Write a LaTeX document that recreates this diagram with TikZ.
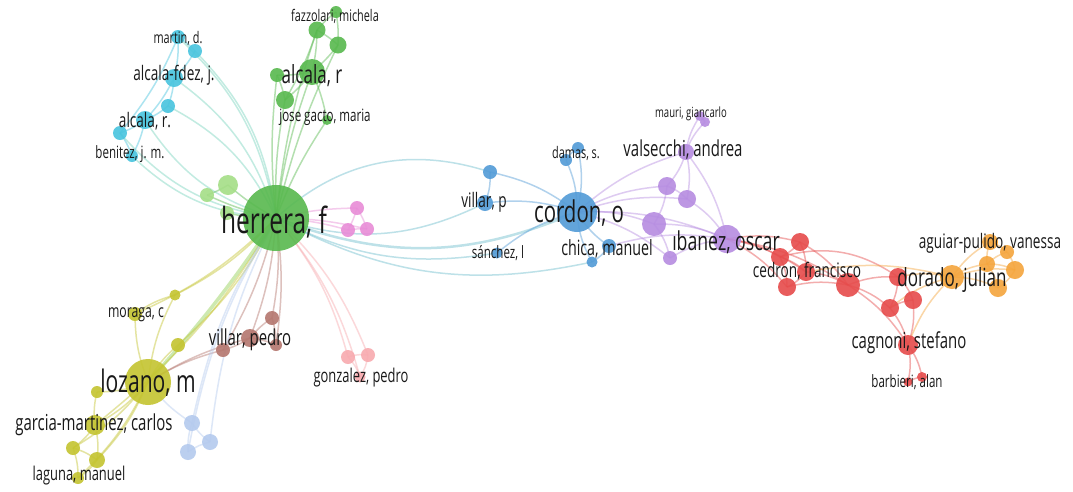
\documentclass[tikz,border=0pt]{standalone}
\usepackage{fontspec}
\setmainfont{Open Sans}[FakeStretch=0.68]
\usepackage{tikz}
\usetikzlibrary{backgrounds}
\definecolor{gr}{RGB}{88,185,78}
\definecolor{lg}{RGB}{165,222,135}
\definecolor{cy}{RGB}{72,196,222}
\definecolor{bl}{RGB}{82,155,215}
\definecolor{pu}{RGB}{182,140,225}
\definecolor{rd}{RGB}{230,75,75}
\definecolor{og}{RGB}{245,165,60}
\definecolor{ye}{RGB}{196,196,48}
\definecolor{br}{RGB}{180,118,110}
\definecolor{lp}{RGB}{248,170,175}
\definecolor{pk}{RGB}{232,140,215}
\definecolor{lb}{RGB}{180,202,238}
\definecolor{tl}{RGB}{120,212,190}
\definecolor{tb}{RGB}{110,190,205}
\definecolor{gy}{RGB}{145,208,80}
\pgfdeclarelayer{edges}
\pgfsetlayers{edges,main}
\tikzset{pt/.style={circle, inner sep=0pt, fill=#1, fill opacity=0.9},
  lbl/.style={font=\fontsize{#1}{#1}\selectfont, inner sep=0pt, text=black!90},
  ln/.style={draw=#1, line width=1.5pt, opacity=0.45}}

\begin{document}
\begin{tikzpicture}[x=1pt,y=-1pt]
  \useasboundingbox (0,0) rectangle (1073,491);
  % clusters
  \foreach \n/\x/\y/\d in {hf/276/218/66, ar/312/72/26, fm1/317/30/17, fm2/336/12/12, fm3/338/45/17,
      g4/277/75/14, jg/285/100/18, g6/327/120/10}
    \node[pt=gr, minimum size=\d pt] (\n) at (\x,\y) {};
  \foreach \n/\x/\y/\d in {lg1/228/185/20, lg2/207/195/14, lg3/227/213/14}
    \node[pt=lg, minimum size=\d pt] (\n) at (\x,\y) {};
  \foreach \n/\x/\y/\d in {md1/178/37/14, md2/195/51/14, af/174/78/18, c4/168/106/14,
      arr/145/120/18, c6/120/133/14, bj/132/156/12}
    \node[pt=cy, minimum size=\d pt] (\n) at (\x,\y) {};
  \foreach \n/\x/\y/\d in {pk1/357/208/14, pk2/348/230/14, pk3/367/229/14}
    \node[pt=pk, minimum size=\d pt] (\n) at (\x,\y) {};
  \foreach \n/\x/\y/\d in {co/577/212/40, vp1/490/172/14, vp2/485/203/16, ds1/566/160/12, ds2/578/148/12,
      sl/497/253/11, cm1/609/246/14, cm2/592/262/11}
    \node[pt=bl, minimum size=\d pt] (\n) at (\x,\y) {};
  \foreach \n/\x/\y/\d in {io/727/239/28, va/686/152/16, mg1/700/116/10, mg2/705/122/10,
      p4/667/186/18, p5/687/199/18, p6/654/224/24, p7/670/258/14}
    \node[pt=pu, minimum size=\d pt] (\n) at (\x,\y) {};
  \foreach \n/\x/\y/\d in {r1/800/242/18, r2/780/257/18, cf/806/272/18, r4/787/287/18, r5/848/285/24,
      r6/898/277/18, r7/890/308/18, r8/913/300/18, cs/908/345/20, ba1/908/382/9, ba2/922/377/10}
    \node[pt=rd, minimum size=\d pt] (\n) at (\x,\y) {};
  \foreach \n/\x/\y/\d in {dj/952/277/24, ap1/990/242/16, ap2/1007/252/14, o2/987/264/16,
      o3/1015/270/18, o4/998/288/18}
    \node[pt=og, minimum size=\d pt] (\n) at (\x,\y) {};
  \foreach \n/\x/\y/\d in {lm/148/382/46, ye1/175/295/11, mc/135/314/14, ye3/178/345/14, ye4/97/392/12,
      gm/95/425/20, ye6/73/448/14, ye7/97/460/16, lmn/78/478/12}
    \node[pt=ye, minimum size=\d pt] (\n) at (\x,\y) {};
  \foreach \n/\x/\y/\d in {vpd/250/338/18, br2/272/318/14, br3/276/345/12, br4/223/350/14}
    \node[pt=br, minimum size=\d pt] (\n) at (\x,\y) {};
  \foreach \n/\x/\y/\d in {gp1/348/357/14, gp2/368/355/14, gp3/360/377/11}
    \node[pt=lp, minimum size=\d pt] (\n) at (\x,\y) {};
  \foreach \n/\x/\y/\d in {lb1/192/423/16, lb2/210/442/16, lb3/188/452/16}
    \node[pt=lb, minimum size=\d pt] (\n) at (\x,\y) {};

  % links
  \begin{pgfonlayer}{edges}
    \fill[white] (0,0) rectangle (1073,491);
    \foreach \a/\b in {hf/md1, hf/md2, hf/af, hf/c4}
      \draw[ln=tl] (\a.center) to[bend right=18] (\b.center);
    \foreach \a/\b in {hf/arr, hf/c6, hf/bj}
      \draw[ln=tl] (\a.center) to[bend left=20] (\b.center);
    \foreach \a/\b in {md1/md2, md1/af, md2/af, af/c4, af/arr, c4/arr, arr/c6, c6/bj, arr/bj, md1/c6}
      \draw[ln=cy] (\a.center) to[bend left=8] (\b.center);
    \foreach \a/\b in {hf/ar, hf/fm1, hf/fm3, hf/g4, hf/jg, hf/g6, hf/lg1, hf/lg2, hf/lg3,
        fm1/fm2, fm1/fm3, fm2/fm3, fm1/ar, fm3/ar, ar/g4, ar/jg, g4/jg, ar/g6, fm1/jg, lg1/lg2}
      \draw[ln=gr] (\a.center) to[bend left=6] (\b.center);
    \draw[ln=gy, line width=3.5pt] (hf.center) to[bend left=4] (lm.center);
    \foreach \a/\b in {hf/pk1, hf/pk2, hf/pk3, pk1/pk2, pk1/pk3, pk2/pk3}
      \draw[ln=pk] (\a.center) to[bend left=6] (\b.center);
    \draw[ln=tb] (hf.center) to[bend left=30] (vp1.center);
    \draw[ln=tb] (hf.center) to[bend right=22] (vp2.center);
    \draw[ln=tb, line width=2.5pt] (hf.center) to[bend right=22] (co.center);
    \draw[ln=tb] (hf.center) to[bend right=18] (sl.center);
    \draw[ln=tb] (hf.center) to[bend right=20] (cm2.center);
    \foreach \a/\b in {vp1/vp2, vp1/co, vp2/co, ds1/co, ds2/co, ds1/ds2, sl/co, cm1/co, cm2/co, cm1/cm2}
      \draw[ln=bl] (\a.center) to[bend left=12] (\b.center);
    \foreach \a/\b in {co/p4, co/p5, co/p6, co/io, co/p7, co/va, va/mg1, va/mg2, mg1/mg2, va/p4, va/p5,
        va/io, p4/p5, p4/p6, p5/io, p6/io, p6/p7, p7/io, cm1/io}
      \draw[ln=pu] (\a.center) to[bend left=12] (\b.center);
    \foreach \a/\b in {io/r1, io/r2, io/cf, io/r4, io/r5, r1/r2, r1/cf, r2/cf, r2/r4, cf/r4, cf/r5,
        r4/r5, r1/r5, r5/r6, r5/r7, r6/r7, r6/r8, r7/r8, r7/cs, r8/cs, cs/ba1, cs/ba2, ba1/ba2, r5/cs}
      \draw[ln=rd] (\a.center) to[bend left=12] (\b.center);
    \draw[ln=rd] (r2.center) to[bend left=25] (r6.center);
    \foreach \a/\b in {r6/dj, r7/dj, cs/dj, cf/dj, dj/o2, dj/o3, dj/o4, dj/ap1, o2/ap1, o2/ap2, o2/o3,
        o3/o4, ap1/ap2, ap2/o3, o2/o4}
      \draw[ln=og] (\a.center) to[bend left=12] (\b.center);
    \foreach \a/\b in {hf/ye1, hf/mc, hf/ye3, hf/gm, lm/ye1, lm/mc, lm/ye3, lm/ye4, lm/gm, lm/ye6,
        lm/ye7, lm/lmn, gm/ye4, gm/ye6, gm/ye7, ye6/ye7, ye6/lmn, ye7/lmn, mc/ye1}
      \draw[ln=ye] (\a.center) to[bend left=10] (\b.center);
    \foreach \a/\b in {hf/vpd, hf/br2, hf/br3, hf/br4, vpd/br2, vpd/br3, vpd/br4, br2/br3, lm/br4, lm/vpd}
      \draw[ln=br] (\a.center) to[bend left=8] (\b.center);
    \foreach \a/\b in {hf/gp1, hf/gp2, hf/gp3, gp1/gp2, gp1/gp3, gp2/gp3}
      \draw[ln=lp] (\a.center) to[bend left=12] (\b.center);
    \foreach \a/\b in {hf/lb1, hf/lb2, hf/lb3, lb1/lb2, lb1/lb3, lb2/lb3, lm/lb1}
      \draw[ln=lb] (\a.center) to[bend right=10] (\b.center);
  \end{pgfonlayer}

  % labels
  \node[lbl=36] (hf-t) at (274,222) {herrera, f};
  \node[lbl=25] (ar-t) at (312,76) {alcala, r};
  \node[lbl=16] (fm-t) at (335,16) {fazzolari, michela};
  \node[lbl=17] (jg-t) at (325,117) {jose gacto, maria};
  \node[lbl=16] (md-t) at (178,38) {martin, d.};
  \node[lbl=20] (af-t) at (174,75) {alcala-fdez, j.};
  \node[lbl=20] (arr-t) at (145,121) {alcala, r.};
  \node[lbl=17] (bj-t) at (130,154) {benitez, j. m.};
  \node[lbl=30] (co-t) at (579,213) {cordon, o};
  \node[lbl=20] (vp-t) at (484,202) {villar, p};
  \node[lbl=16] (ds-t) at (576,153) {damas, s.};
  \node[lbl=17] (sl-t) at (498,253) {sánchez, l};
  \node[lbl=21] (cm-t) at (607,249) {chica, manuel};
  \node[lbl=22] (va-t) at (683,150) {valsecchi, andrea};
  \node[lbl=14] (mg-t) at (691,114) {mauri, giancarlo};
  \node[lbl=26] (io-t) at (726,242) {ıbanez, oscar};
  \node[lbl=20] (cf-t) at (807,271) {cedron, francisco};
  \node[lbl=25] (dj-t) at (952,280) {dorado, julian};
  \node[lbl=20] (ap-t) at (990,243) {aguiar-pulido, vanessa};
  \node[lbl=22] (cs-t) at (909,343) {cagnoni, stefano};
  \node[lbl=17] (ba-t) at (907,382) {barbieri, alan};
  \node[lbl=31] (lm-t) at (148,383) {lozano, m};
  \node[lbl=18] (mc-t) at (136,315) {moraga, c};
  \node[lbl=22] (vpd-t) at (250,340) {villar, pedro};
  \node[lbl=19] (gp-t) at (361,378) {gonzalez, pedro};
  \node[lbl=22] (gm-t) at (94,425) {garcia-martinez, carlos};
  \node[lbl=19] (lmn-t) at (79,476) {laguna, manuel};
\end{tikzpicture}
\end{document}
